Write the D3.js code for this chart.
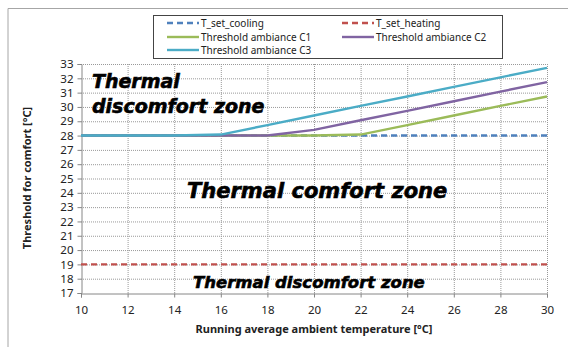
<!DOCTYPE html>
<html>
<head>
<meta charset="utf-8">
<script src="https://cdn.jsdelivr.net/npm/d3@7"></script>
<style>
  body { margin: 0; background: #fff; }
  svg { display: block; font-family: "Noto Sans", "Open Sans", sans-serif; }
</style>
</head>
<body>
<script>
// data
const xs = [10, 12, 14, 16, 18, 20, 22, 24, 26, 28, 30]
const tSetCooling = [28, 28, 28, 28, 28, 28, 28, 28, 28, 28, 28]
const tSetHeating = [19, 19, 19, 19, 19, 19, 19, 19, 19, 19, 19]
const thresholdC1 = [28, 28, 28, 28, 28, 28, 28.07, 28.73, 29.4, 30.07, 30.73]
const thresholdC2 = [28, 28, 28, 28, 28, 28.4, 29.07, 29.73, 30.4, 31.07, 31.73]
const thresholdC3 = [28, 28, 28, 28.07, 28.73, 29.4, 30.07, 30.73, 31.4, 32.07, 32.73]
const xTicks = [10, 12, 14, 16, 18, 20, 22, 24, 26, 28, 30]
const yTicks = d3.range(17, 34)

const series = [
  { name: "T_set_cooling", values: tSetCooling, color: "#4f81bd", dash: "6,4", w: 2.4 },
  { name: "T_set_heating", values: tSetHeating, color: "#c0504d", dash: "6,4", w: 2.4 },
  { name: "Threshold ambiance  C1", values: thresholdC1, color: "#9bbb59", dash: null, w: 2.4 },
  { name: "Threshold ambiance  C2", values: thresholdC2, color: "#8064a2", dash: null, w: 2.4 },
  { name: "Threshold ambiance  C3", values: thresholdC3, color: "#4bacc6", dash: null, w: 2.4 }
]

const W = 568, H = 347
const m = { left: 81, right: 21, top: 64, bottom: 54 }

const svg = d3.select("body").append("svg").attr("width", W).attr("height", H)

// outer frame (top & left only visible)
svg.append("path").attr("d", `M8,${H} V8.5 H${W}`).attr("fill", "none").attr("stroke", "#a6a6a6")

const x = d3.scaleLinear().domain([10, 30]).range([m.left, W - m.right])
const y = d3.scaleLinear().domain([17, 33]).range([H - m.bottom, m.top])

// grid
svg.append("g").selectAll("line").data(yTicks.slice(1)).join("line")
  .attr("x1", x(10)).attr("x2", x(30))
  .attr("y1", d => y(d) + 0.5).attr("y2", d => y(d) + 0.5)
  .attr("stroke", "#999").attr("stroke-dasharray", "1,1")
svg.append("g").selectAll("line").data(xTicks.slice(1)).join("line")
  .attr("x1", d => x(d) + 0.5).attr("x2", d => x(d) + 0.5)
  .attr("y1", y(17)).attr("y2", y(33))
  .attr("stroke", "#999").attr("stroke-dasharray", "1,1")

// axes
const xAxis = svg.append("g").attr("transform", `translate(0,${y(17) + 0.5})`)
  .call(d3.axisBottom(x).tickValues(xTicks).tickSize(4).tickPadding(8))
const yAxis = svg.append("g").attr("transform", `translate(${x(10) + 0.5},0)`)
  .call(d3.axisLeft(y).tickValues(yTicks).tickSize(4).tickPadding(4))
;[xAxis, yAxis].forEach(a => {
  a.select(".domain").attr("stroke", "#868686")
  a.selectAll(".tick line").attr("stroke", "#868686")
  a.selectAll("text").attr("font-size", 11.5).attr("fill", "#222")
    .attr("font-family", "'Noto Sans', sans-serif")
})

// axis titles
svg.append("text").attr("x", 314).attr("y", 333).attr("text-anchor", "middle")
  .attr("font-size", 11).attr("font-weight", "bold").attr("fill", "#222")
  .text("Running average ambient temperature [°C]")
svg.append("text").attr("transform", "translate(31,178) rotate(-90)").attr("text-anchor", "middle")
  .attr("font-size", 11).attr("font-weight", "bold").attr("fill", "#222")
  .text("Threshold for comfort [°C]")

// zone labels
const zone = (tx, ty, size, txt) => svg.append("text").attr("x", tx).attr("y", ty)
  .attr("font-family", "'DejaVu Sans', Verdana, sans-serif")
  .attr("font-weight", "bold").attr("font-style", "italic")
  .attr("font-size", size).attr("fill", "#000")
  .attr("stroke", "#000").attr("stroke-width", 0.6).text(txt)
zone(92, 88, 19, "Thermal")
zone(92, 113, 19, "discomfort zone")
zone(187, 198, 21, "Thermal comfort zone")
zone(193, 288, 16.5, "Thermal discomfort zone")

// lines (drawn in legend order, C3 on top)
const line = d3.line().x((d, i) => x(xs[i])).y(d => y(d))
svg.append("g").selectAll("path").data(series).join("path")
  .attr("d", d => line(d.values))
  .attr("fill", "none").attr("stroke", d => d.color).attr("stroke-width", d => d.w)
  .attr("stroke-dasharray", d => d.dash)

// legend
const lg = svg.append("g")
lg.append("rect").attr("x", 153.5).attr("y", 15.5).attr("width", 349).attr("height", 43)
  .attr("fill", "#fff").attr("stroke", "#444")
const pos = [[167, 23], [342, 23], [167, 37], [342, 37], [167, 50]]
series.forEach((s, i) => {
  const [lx, ly] = pos[i]
  lg.append("line").attr("x1", lx).attr("x2", lx + 32).attr("y1", ly).attr("y2", ly)
    .attr("stroke", s.color).attr("stroke-width", s.w).attr("stroke-dasharray", s.dash)
  lg.append("text").attr("x", lx + 34).attr("y", ly + 3.5).attr("font-size", 10)
    .attr("fill", "#222").text(s.name)
})
</script>
</body>
</html>
